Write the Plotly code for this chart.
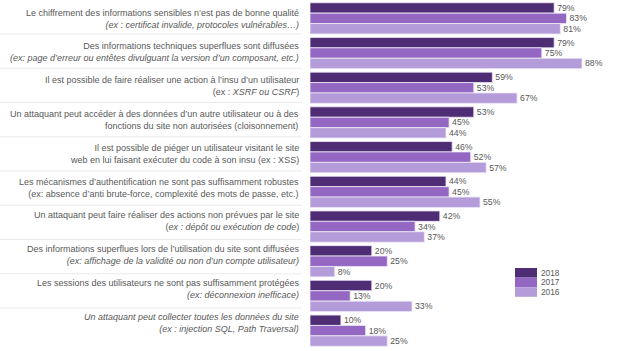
import plotly.graph_objects as go

categories = [
    "Le chiffrement des informations sensibles n’est pas de bonne qualité<br><i>(ex : certificat invalide, protocoles vulnérables…)</i>",
    "Des informations techniques superflues sont diffusées<br><i>(ex: page d’erreur ou entêtes divulguant la version d’un composant, etc.)</i>",
    "Il est possible de faire réaliser une action à l’insu d’un utilisateur<br>(ex : <i>XSRF ou CSRF</i>)",
    "Un attaquant peut accéder à des données d’un autre utilisateur ou à des<br>fonctions du site non autorisées (cloisonnement)",
    "Il est possible de piéger un utilisateur visitant le site<br>web en lui faisant exécuter du code à son insu (ex : XSS)",
    "Les mécanismes d’authentification ne sont pas suffisamment robustes<br>(ex: absence d’anti brute-force, complexité des mots de passe, etc.)",
    "Un attaquant peut faire réaliser des actions non prévues par le site<br>(<i>ex : dépôt ou exécution de code</i>)",
    "Des informations superflues lors de l’utilisation du site sont diffusées<br><i>(ex: affichage de la validité ou non d’un compte utilisateur)</i>",
    "Les sessions des utilisateurs ne sont pas suffisamment protégées<br><i>(ex: déconnexion inefficace)</i>",
    "<i>Un attaquant peut collecter toutes les données du site</i><br><i>(ex : injection SQL, Path Traversal)</i>",
]
years = ["2018", "2017", "2016"]
v2018 = [79, 79, 59, 53, 46, 44, 42, 20, 20, 10]
v2017 = [83, 75, 53, 45, 52, 45, 34, 25, 13, 18]
v2016 = [81, 88, 67, 44, 57, 55, 37, 8, 33, 25]
series = [v2018, v2017, v2016]
colors = ["#4E2D74", "#9468C2", "#B39CD9"]

W, H = 620, 351
ML, MR, MT, MB = 310, 0, 1, 3
PH = H - MT - MB
GRAY = "#595959"
FONT = "Liberation Sans"

idx = list(range(len(categories)))
fig = go.Figure()
for name, vals, col in zip(years, series, colors):
    fig.add_trace(go.Bar(
        y=idx, x=vals, orientation="h", name=name,
        marker=dict(color=col, line=dict(color="#EFE9F6", width=0.8)),
        text=[f"{v}%" for v in vals], textposition="outside",
        textfont=dict(family=FONT, size=8.7, color=GRAY),
        constraintext="none", cliponaxis=False, showlegend=False,
    ))

def py2paper(py):
    return (H - MB - py) / PH

annotations = []
for k, lab in enumerate(categories):
    yc = 18.5 + 33.8 * k
    annotations.append(dict(
        x=-9 / 310, xref="paper", y=py2paper(yc), yref="paper",
        text=lab, showarrow=False, xanchor="right", yanchor="middle", align="right",
        font=dict(family=FONT, size=9, color=GRAY),
    ))

shapes = []
for k in range(len(categories) - 1):
    ys = 34 + 34.25 * k
    shapes.append(dict(type="line", xref="paper", yref="paper",
                       x0=-1.0, x1=-8 / 310, y0=py2paper(ys), y1=py2paper(ys),
                       line=dict(color="#EBEBEB", width=1)))

# legend
lx0, lx1 = 515, 537
for i, (name, col) in enumerate(zip(years, colors)):
    y0 = 268 + 9.6 * i
    y1 = y0 + 9.6
    shapes.append(dict(type="rect", xref="paper", yref="paper",
                       x0=(lx0 - ML) / 310, x1=(lx1 - ML) / 310,
                       y0=py2paper(y1), y1=py2paper(y0),
                       fillcolor=col, line=dict(width=0)))
    annotations.append(dict(
        x=(539 - ML) / 310, xref="paper", y=py2paper((y0 + y1) / 2), yref="paper",
        text=name, showarrow=False, xanchor="left", yanchor="middle",
        font=dict(family=FONT, size=8.3, color=GRAY),
    ))

fig.update_layout(
    width=W, height=H, margin=dict(l=ML, r=MR, t=MT, b=MB),
    paper_bgcolor="white", plot_bgcolor="white",
    barmode="group", bargap=0.1, bargroupgap=0,
    xaxis=dict(range=[0, 100.3], visible=False, fixedrange=True),
    yaxis=dict(range=[9.5, -0.5], visible=False, fixedrange=True),
    annotations=annotations, shapes=shapes,
    showlegend=False,
)
fig.write_html("out.html")
